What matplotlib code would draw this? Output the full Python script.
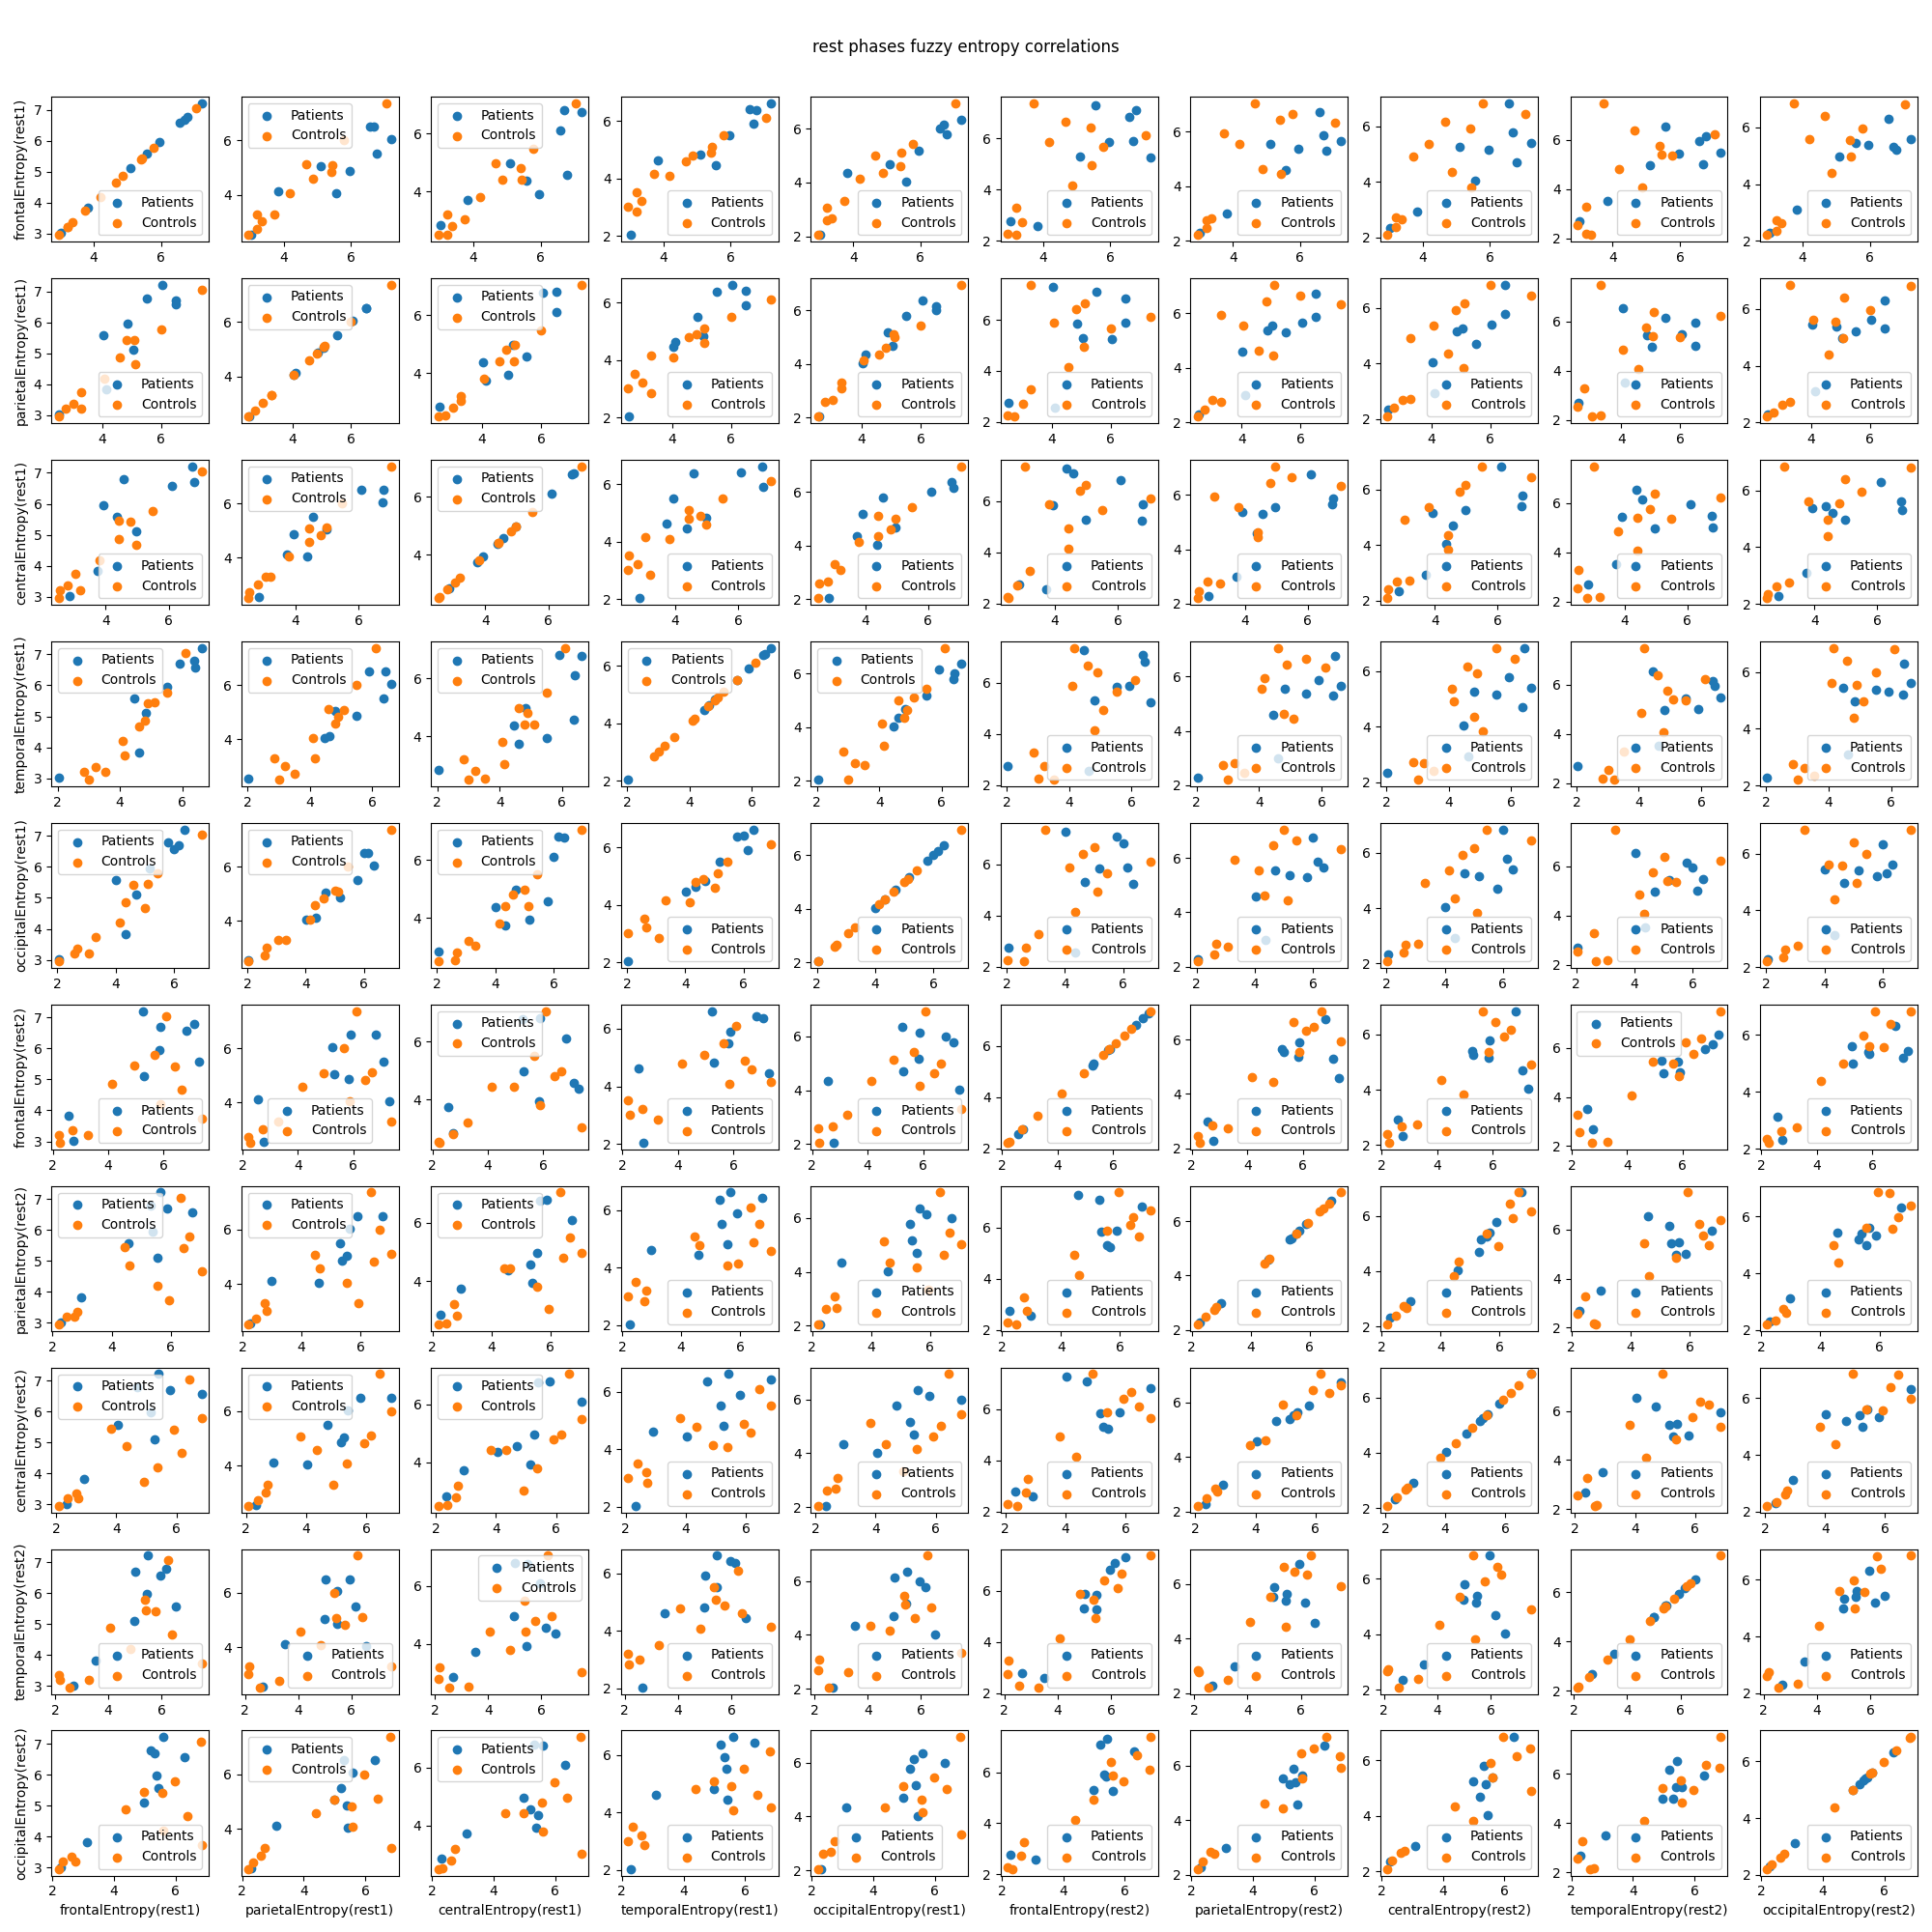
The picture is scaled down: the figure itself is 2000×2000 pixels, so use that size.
import matplotlib
matplotlib.use("Agg")
import matplotlib.pyplot as plt
import numpy as np

names = ["frontalEntropy(rest1)", "parietalEntropy(rest1)", "centralEntropy(rest1)",
         "temporalEntropy(rest1)", "occipitalEntropy(rest1)", "frontalEntropy(rest2)",
         "parietalEntropy(rest2)", "centralEntropy(rest2)", "temporalEntropy(rest2)",
         "occipitalEntropy(rest2)"]

# one list per region, one value per subject
patients_frontal1 = [3.02, 3.83, 5.10, 5.57, 5.96, 6.57, 6.69, 6.78, 7.21]
patients_parietal1 = [2.54, 4.12, 5.05, 4.04, 4.87, 6.51, 6.51, 5.51, 6.05]
patients_central1 = [2.85, 3.73, 4.97, 4.37, 3.93, 6.10, 6.80, 4.57, 6.76]
patients_temporal1 = [2.03, 4.62, 4.82, 4.46, 5.51, 6.42, 5.91, 6.37, 6.62]
patients_occipital1 = [2.05, 4.35, 4.69, 4.02, 5.18, 6.00, 6.15, 5.79, 6.35]
patients_frontal2 = [2.76, 2.57, 5.30, 7.29, 5.84, 6.82, 5.89, 7.09, 5.25]
patients_parietal2 = [2.27, 2.98, 5.55, 4.58, 5.38, 6.74, 5.88, 5.31, 5.65]
patients_central2 = [2.34, 2.92, 5.26, 4.04, 5.15, 6.84, 5.79, 4.70, 5.40]
patients_temporal2 = [2.68, 3.51, 4.98, 6.54, 5.45, 5.95, 5.01, 6.16, 5.47]
patients_occipital2 = [2.29, 3.11, 4.98, 5.44, 5.39, 6.31, 5.32, 5.20, 5.60]

controls_frontal1 = [2.95, 3.21, 3.21, 3.36, 3.73, 4.19, 4.66, 4.87, 5.41, 5.44, 5.78, 7.05]
controls_parietal1 = [2.51, 3.29, 2.74, 3.01, 3.29, 4.06, 5.11, 4.58, 4.83, 5.08, 6.00, 7.37]
controls_central1 = [2.50, 3.20, 2.53, 2.80, 3.04, 3.80, 4.97, 4.42, 4.80, 4.42, 5.49, 7.05]
controls_temporal1 = [3.01, 2.85, 3.52, 3.21, 4.16, 4.09, 4.60, 4.80, 4.90, 5.10, 5.51, 6.11]
controls_occipital1 = [2.04, 3.08, 2.60, 2.67, 3.32, 4.15, 5.01, 4.34, 4.62, 5.12, 5.44, 6.95]
controls_frontal2 = [2.27, 3.28, 2.21, 2.73, 7.37, 5.87, 6.66, 4.15, 6.41, 4.94, 5.66, 6.10]
controls_parietal2 = [2.20, 2.75, 2.47, 2.83, 5.94, 5.55, 7.05, 4.62, 6.45, 4.45, 6.65, 6.34]
controls_central2 = [2.08, 2.73, 2.39, 2.67, 4.91, 5.37, 6.17, 4.35, 5.92, 3.82, 6.84, 6.44]
controls_temporal2 = [2.55, 2.17, 3.27, 2.13, 7.50, 4.84, 6.39, 4.08, 5.76, 5.42, 5.36, 6.24]
controls_occipital2 = [2.20, 2.74, 2.35, 2.62, 6.85, 5.60, 6.39, 4.38, 5.56, 4.98, 5.97, 6.82]

patients = [patients_frontal1, patients_parietal1, patients_central1, patients_temporal1,
            patients_occipital1, patients_frontal2, patients_parietal2, patients_central2,
            patients_temporal2, patients_occipital2]
controls = [controls_frontal1, controls_parietal1, controls_central1, controls_temporal1,
            controls_occipital1, controls_frontal2, controls_parietal2, controls_central2,
            controls_temporal2, controls_occipital2]

n = len(names)
fig, axes = plt.subplots(n, n, figsize=(20, 20))
for i in range(n):
    for j in range(n):
        ax = axes[i, j]
        ax.scatter(patients[i], patients[j], label="Patients")
        ax.scatter(controls[i], controls[j], label="Controls")
        ax.legend()
        if j == 0:
            ax.set_ylabel(names[i])
        if i == n - 1:
            ax.set_xlabel(names[j])

fig.suptitle("rest phases fuzzy entropy correlations")
plt.tight_layout()
plt.subplots_adjust(top=0.95)
plt.savefig("out.png", dpi=100)
